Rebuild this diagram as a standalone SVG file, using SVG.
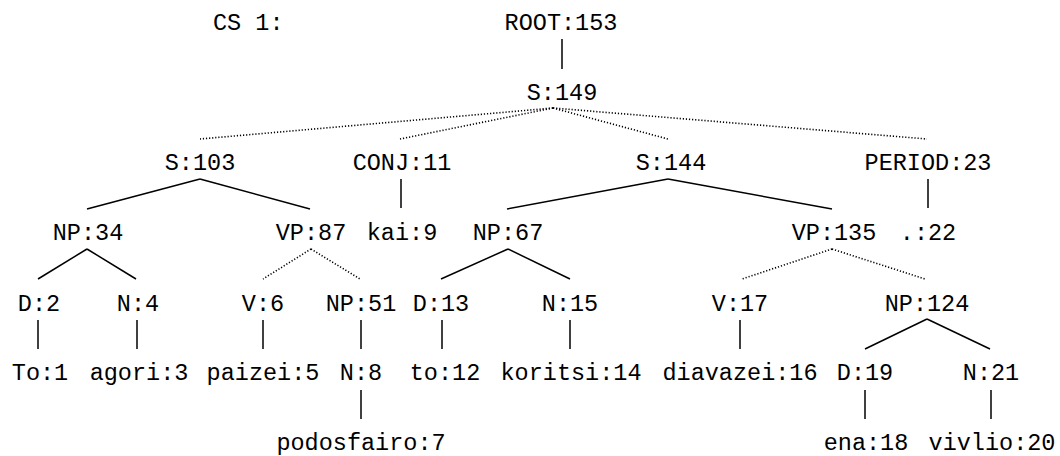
<svg xmlns="http://www.w3.org/2000/svg" width="1060" height="456" viewBox="0 0 1060 456">
  <style>
    text { font-family: "Liberation Mono", "DejaVu Sans Mono", monospace; font-size: 23.5px; fill: #000; text-anchor: middle; }
    .solid { stroke: #000; stroke-width: 1.5; fill: none; }
    .dotted { stroke: #000; stroke-width: 1.6; fill: none; stroke-dasharray: 1.2 1.9; }
  </style>
  <rect width="1060" height="456" fill="#fff"/>

  <!-- tree edges -->
  <g id="connectors">
    <line class="solid" x1="562" y1="39" x2="562" y2="69"/>
    <line class="dotted" x1="553" y1="108" x2="200" y2="139"/>
    <line class="dotted" x1="553" y1="108" x2="400" y2="139"/>
    <line class="dotted" x1="553" y1="108" x2="668" y2="139"/>
    <line class="dotted" x1="553" y1="108" x2="927" y2="139"/>
    <line class="solid" x1="200" y1="179" x2="87" y2="209"/>
    <line class="solid" x1="200" y1="179" x2="310" y2="209"/>
    <line class="solid" x1="401" y1="179" x2="401" y2="208"/>
    <line class="solid" x1="668" y1="179" x2="507" y2="209"/>
    <line class="solid" x1="668" y1="179" x2="832" y2="209"/>
    <line class="solid" x1="928" y1="179" x2="928" y2="208"/>
    <line class="solid" x1="87" y1="249" x2="38" y2="279"/>
    <line class="solid" x1="87" y1="249" x2="136" y2="279"/>
    <line class="dotted" x1="311" y1="249" x2="263" y2="279"/>
    <line class="dotted" x1="311" y1="249" x2="360" y2="279"/>
    <line class="solid" x1="508" y1="249" x2="441" y2="279"/>
    <line class="solid" x1="508" y1="249" x2="570" y2="279"/>
    <line class="dotted" x1="832" y1="249" x2="742" y2="279"/>
    <line class="dotted" x1="832" y1="249" x2="925" y2="279"/>
    <line class="solid" x1="38" y1="320" x2="38" y2="349"/>
    <line class="solid" x1="137" y1="320" x2="137" y2="349"/>
    <line class="solid" x1="263" y1="320" x2="263" y2="349"/>
    <line class="solid" x1="361" y1="320" x2="361" y2="349"/>
    <line class="solid" x1="442" y1="320" x2="442" y2="349"/>
    <line class="solid" x1="570" y1="320" x2="570" y2="349"/>
    <line class="solid" x1="740" y1="320" x2="740" y2="349"/>
    <line class="solid" x1="927" y1="319" x2="865" y2="349"/>
    <line class="solid" x1="927" y1="319" x2="990" y2="349"/>
    <line class="solid" x1="361" y1="390" x2="361" y2="419"/>
    <line class="solid" x1="865" y1="390" x2="865" y2="419"/>
    <line class="solid" x1="991" y1="390" x2="991" y2="419"/>
  </g>

  <!-- caption -->
  <g id="caption"><text x="213" y="30" style="text-anchor:start">CS 1:</text></g>

  <!-- nodes -->
  <g id="n153"><text x="561" y="30">ROOT:153</text></g>
  <g id="n149"><text x="562" y="100">S:149</text></g>
  <g id="n103"><text x="200" y="170">S:103</text></g>
  <g id="n11"><text x="402" y="170">CONJ:11</text></g>
  <g id="n144"><text x="671" y="170">S:144</text></g>
  <g id="n23"><text x="928" y="170">PERIOD:23</text></g>
  <g id="n34"><text x="88" y="240">NP:34</text></g>
  <g id="n87"><text x="311" y="240">VP:87</text></g>
  <g id="n9"><text x="402" y="240">kai:9</text></g>
  <g id="n67"><text x="508" y="240">NP:67</text></g>
  <g id="n135"><text x="834" y="240">VP:135</text></g>
  <g id="n22"><text x="928" y="240">.:22</text></g>
  <g id="n2"><text x="39" y="311">D:2</text></g>
  <g id="n4"><text x="138" y="311">N:4</text></g>
  <g id="n6"><text x="263" y="311">V:6</text></g>
  <g id="n51"><text x="361" y="311">NP:51</text></g>
  <g id="n13"><text x="441" y="311">D:13</text></g>
  <g id="n15"><text x="570" y="311">N:15</text></g>
  <g id="n17"><text x="740" y="311">V:17</text></g>
  <g id="n124"><text x="927" y="311">NP:124</text></g>
  <g id="n1"><text x="40" y="380">To:1</text></g>
  <g id="n3"><text x="139" y="380">agori:3</text></g>
  <g id="n5"><text x="263" y="380">paizei:5</text></g>
  <g id="n8"><text x="361" y="380">N:8</text></g>
  <g id="n12"><text x="445" y="380">to:12</text></g>
  <g id="n14"><text x="571" y="380">koritsi:14</text></g>
  <g id="n16"><text x="740" y="380">diavazei:16</text></g>
  <g id="n19"><text x="865" y="380">D:19</text></g>
  <g id="n21"><text x="991" y="380">N:21</text></g>
  <g id="n7"><text x="361" y="450">podosfairo:7</text></g>
  <g id="n18"><text x="866" y="450">ena:18</text></g>
  <g id="n20"><text x="992" y="450">vivlio:20</text></g>
</svg>
